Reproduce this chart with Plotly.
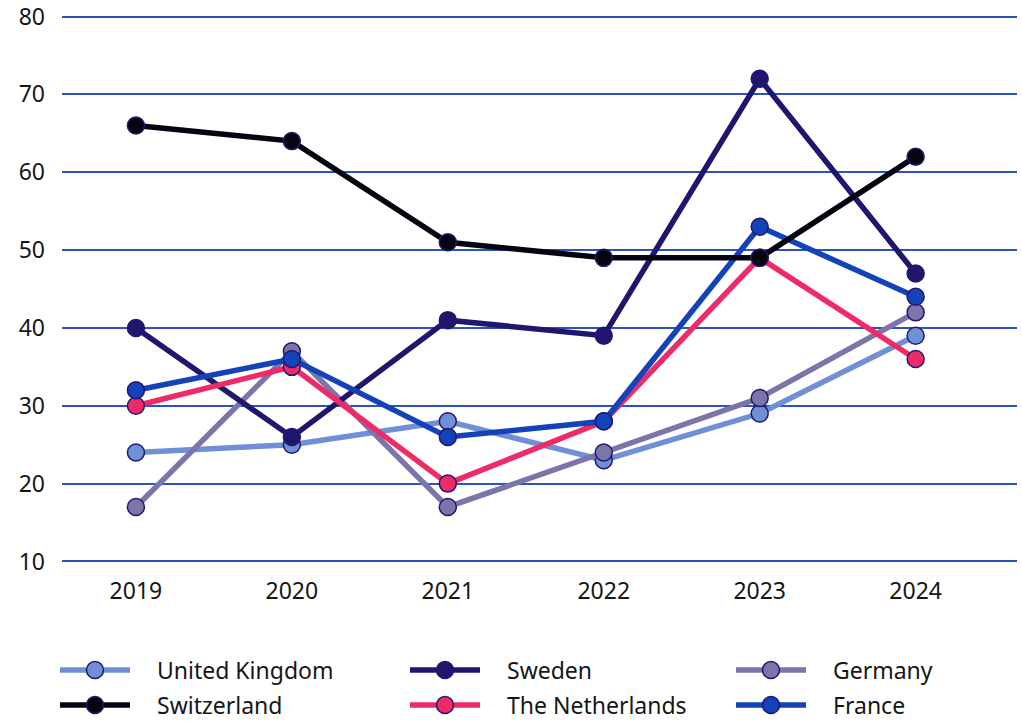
import plotly.graph_objects as go

# Survey years and country series
years = ["2019", "2020", "2021", "2022", "2023", "2024"]

united_kingdom = [24, 25, 28, 23, 29, 39]
sweden = [40, 26, 41, 39, 72, 47]
germany = [17, 37, 17, 24, 31, 42]
switzerland = [66, 64, 51, 49, 49, 62]
netherlands = [30, 35, 20, 28, 49, 36]
france = [32, 36, 26, 28, 53, 44]

y_ticks = [10, 20, 30, 40, 50, 60, 70, 80]

OUTLINE = "#22186e"
FONT = "Noto Sans"
TEXT = "#161616"

# name, values, colour, legend column, legend row
series = [
    ("United Kingdom", united_kingdom, "#6f8fd6", 0, 0),
    ("Germany", germany, "#7b75aa", 2, 0),
    ("Sweden", sweden, "#20166e", 1, 0),
    ("The Netherlands", netherlands, "#ee2a68", 1, 1),
    ("France", france, "#1442b8", 2, 1),
    ("Switzerland", switzerland, "#050510", 0, 1),
]

W, H = 1022, 723
L, R, T, B = 62, 5, 15, 160
plot_w = W - L - R
plot_h = H - T - B

fig = go.Figure()
for name, vals, col, _, _ in series:
    fig.add_trace(go.Scatter(
        x=years, y=vals, name=name, mode="lines+markers",
        line=dict(color=col, width=5.5),
        marker=dict(size=17, color=col, line=dict(color=OUTLINE, width=1.5)),
        showlegend=False, cliponaxis=False,
    ))


def px_x(p):
    return (p - L) / plot_w


def px_y(p):
    return (H - B - p) / plot_h


# Legend drawn as a 3x2 grid below the plot
col_x = [60, 410, 736]
row_y = [670, 705]
shapes = []
annotations = []
for name, vals, col, c, r in series:
    x0 = col_x[c]
    yc = px_y(row_y[r])
    shapes.append(dict(type="line", xref="paper", yref="paper",
                       x0=px_x(x0), x1=px_x(x0 + 70), y0=yc, y1=yc,
                       line=dict(color=col, width=5.5)))
    shapes.append(dict(type="circle", xref="paper", yref="paper",
                       xsizemode="pixel", ysizemode="pixel",
                       xanchor=px_x(x0 + 35), yanchor=yc,
                       x0=-8.5, x1=8.5, y0=-8.5, y1=8.5,
                       fillcolor=col, line=dict(color=OUTLINE, width=1.5)))
    annotations.append(dict(xref="paper", yref="paper", x=px_x(x0 + 96), y=yc,
                            text=name, showarrow=False, xanchor="left",
                            yanchor="middle", borderpad=0,
                            font=dict(family=FONT, size=23, color=TEXT)))

fig.update_layout(
    width=W, height=H,
    margin=dict(l=L, r=R, t=T, b=B, autoexpand=False),
    paper_bgcolor="white", plot_bgcolor="white",
    font=dict(family=FONT, size=23, color=TEXT),
    xaxis=dict(type="category", range=[-0.474, 5.65], showgrid=False,
               zeroline=False, showline=False, ticks="", automargin=False,
               ticklabelstandoff=12),
    yaxis=dict(range=[9.8, 80.2], tickmode="array", tickvals=y_ticks,
               ticktext=[str(v) for v in y_ticks], showgrid=True,
               gridcolor="#2b52bd", gridwidth=1.5, zeroline=False,
               showline=False, ticks="", ticklabelstandoff=16,
               automargin=False, ticklabeloverflow="allow"),
    shapes=shapes,
    annotations=annotations,
)

fig.write_html("out.html")
